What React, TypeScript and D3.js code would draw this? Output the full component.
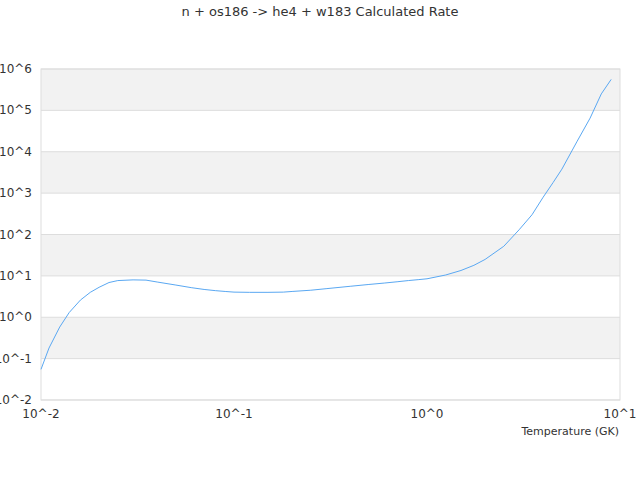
import React from "react";
import * as d3 from "d3";

const title = "n + os186 -> he4 + w183 Calculated Rate";
const xLabel = "Temperature (GK)";
const temperatures = [
  0.01, 0.011, 0.0125, 0.014, 0.016, 0.018, 0.02, 0.0225, 0.025, 0.03, 0.035, 0.04, 0.05,
  0.06, 0.07, 0.08, 0.09, 0.1, 0.12, 0.15, 0.18, 0.2, 0.25, 0.3, 0.4, 0.5, 0.6, 0.7, 0.8,
  0.9, 1.0, 1.25, 1.5, 1.75, 2.0, 2.5, 3.0, 3.5, 4.0, 4.5, 5.0, 6.0, 7.0, 8.0, 9.0,
];
const rates = [
  0.055, 0.18, 0.58, 1.3, 2.6, 4.0, 5.3, 6.9, 7.7, 8.0, 7.9, 7.1, 6.0,
  5.2, 4.7, 4.4, 4.2, 4.05, 4.0, 4.0, 4.05, 4.2, 4.5, 4.9, 5.6, 6.2, 6.7, 7.2, 7.7,
  8.1, 8.5, 10.5, 13.5, 18, 25, 52, 130, 300, 800, 1800, 3800, 18000, 65000, 250000, 560000,
];
const xTicks = [0.01, 0.1, 1, 10];
const xTickLabels = ["10^-2", "10^-1", "10^0", "10^1"];
const yTicks = [1e-2, 1e-1, 1, 1e1, 1e2, 1e3, 1e4, 1e5, 1e6];
const yTickLabels = ["10^-2", "10^-1", "10^0", "10^1", "10^2", "10^3", "10^4", "10^5", "10^6"];

export default function App() {
  const W = 640, H = 480;
  const left = 41, right = 620, top = 69, bottom = 400;
  const x = d3.scaleLog().domain([0.01, 10]).range([left, right]);
  const y = d3.scaleLog().domain([1e-2, 1e6]).range([bottom, top]);
  const line = d3
    .line<number>()
    .x((_, i) => x(temperatures[i]))
    .y((d) => y(d));
  const font = "DejaVu Sans, sans-serif";
  const bands = yTicks.slice(0, -1).map((v, i) => ({ lo: v, hi: yTicks[i + 1], i }));
  return (
    <svg width={W} height={H} style={{ position: "absolute", left: 0, top: 0 }} fontFamily={font}>
      <rect x={0} y={0} width={W} height={H} fill="#fff" />
      <text x={320} y={16} textAnchor="middle" fontSize={13} fill="#333">{title}</text>
      {bands.map((b) =>
        b.i % 2 === 1 ? (
          <rect key={b.i} x={left} y={y(b.hi)} width={right - left} height={y(b.lo) - y(b.hi)} fill="#f2f2f2" />
        ) : null
      )}
      {yTicks.map((t) => (
        <line key={t} x1={left} x2={right} y1={y(t)} y2={y(t)} stroke="#ddd" strokeWidth={1} />
      ))}
      <rect x={left} y={top} width={right - left} height={bottom - top} fill="none" stroke="#ddd" strokeWidth={1} />
      {yTicks.map((t, i) => (
        <text key={t} x={32} y={y(t) + 4} textAnchor="end" fontSize={12} fill="#333">{yTickLabels[i]}</text>
      ))}
      {xTicks.map((t, i) => (
        <text key={t} x={x(t)} y={418} textAnchor="middle" fontSize={12} fill="#333">{xTickLabels[i]}</text>
      ))}
      <text x={619} y={435} textAnchor="end" fontSize={11} fill="#333">{xLabel}</text>
      <path d={line(rates) || ""} fill="none" stroke="#5aa8f2" strokeWidth={1} />
    </svg>
  );
}
